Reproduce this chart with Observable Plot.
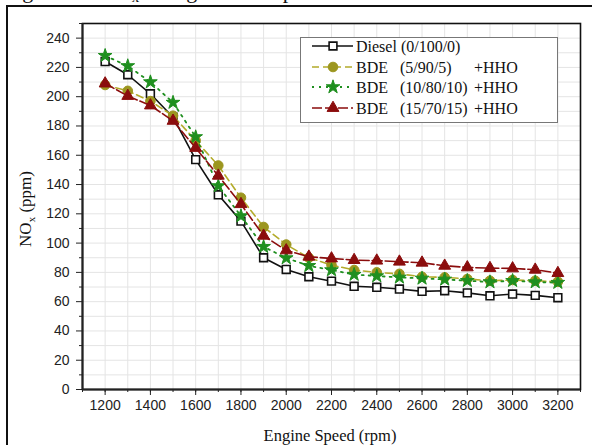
<!DOCTYPE html>
<html>
<head>
<meta charset="utf-8">
<script src="https://cdn.jsdelivr.net/npm/d3@7"></script>
<script src="https://cdn.jsdelivr.net/npm/@observablehq/plot@0.6"></script>
<style>
  body { margin: 0; background: #fff; }
  #wrap { position: relative; width: 592px; height: 445px; overflow: hidden; background: #fff; }
  #wrap > svg { position: absolute; left: 0; top: 0; }
</style>
</head>
<body>
<div id="wrap"></div>
<script>
// Engine speed (rpm)
const speeds = [1200, 1300, 1400, 1500, 1600, 1700, 1800, 1900, 2000, 2100, 2200,
                2300, 2400, 2500, 2600, 2700, 2800, 2900, 3000, 3100, 3200];

// NOx (ppm) per fuel blend
const diesel   = [224, 215, 202, 186, 157, 133, 115, 90, 82, 77, 74,
                  70.5, 69.8, 68.6, 67, 67.5, 66, 64, 65.2, 64.3, 62.7];
const bde5     = [208, 204, 197, 187, 170, 153, 131, 111, 99, 90, 85,
                  81.6, 80, 79, 77, 76.6, 75.5, 74.3, 74.8, 74.3, 73.6];
const bde10    = [228, 221, 210, 196, 172.5, 139, 118.5, 97.5, 89.8, 84.5, 81.6,
                  78.5, 77.5, 76.6, 75.9, 75.2, 74.3, 73.4, 74.3, 73.4, 73];
const bde15    = [209, 200.5, 194, 183.5, 165, 146, 126.6, 105, 95, 90.7, 89.5,
                  88.4, 88, 87.3, 86.6, 84.5, 83.4, 82.9, 82.7, 81.8, 79.5];

const seriesLabels = [
  ["Diesel (0/100/0)", "", ""],
  ["BDE", "(5/90/5)", "+HHO"],
  ["BDE", "(10/80/10)", "+HHO"],
  ["BDE", "(15/70/15)", "+HHO"]
];

// Axis ticks
const xTicks = d3.range(1200, 3201, 200);
const xMinor = d3.range(1100, 3301, 100);
const yTicks = d3.range(0, 241, 20);
const yMinor = d3.range(10, 251, 20);

// Series styling
const styles = [
  {values: diesel, line: "#111", dash: null,  symbol: "square",   r: 4.4, fill: "#fff",    stroke: "#111",    sw: 1.6, lw: 1.6},
  {values: bde5,   line: "#b3ab2a", dash: "7,4", symbol: "circle", r: 4.8, fill: "#9c961f", stroke: "#9c961f", sw: 1, lw: 1.6},
  {values: bde10,  line: "#1f8f1f", dash: "2,5", symbol: "star",   r: 4.3, fill: "#1f8f1f", stroke: "#1f8f1f", sw: 1, lw: 1.8},
  {values: bde15,  line: "#8b0d0d", dash: "10,3", symbol: "triangle", r: 4.4, fill: "#8b0d0d", stroke: "#8b0d0d", sw: 1, lw: 1.6}
];

const tables = styles.map(s => speeds.map((sp, i) => ({speed: sp, nox: s.values[i]})));

const seriesMarks = styles.flatMap((s, k) => [
  Plot.line(tables[k], {x: "speed", y: "nox", stroke: s.line, strokeWidth: s.lw, strokeDasharray: s.dash}),
  Plot.dot(tables[k], {x: "speed", y: "nox", symbol: () => s.symbol, r: s.r, fill: s.fill, stroke: s.stroke, strokeWidth: s.sw})
]);

const chart = Plot.plot({
  width: 592,
  height: 445,
  marginLeft: 82,
  marginRight: 12,
  marginTop: 23,
  marginBottom: 56,
  x: {domain: [1100, 3300]},
  y: {domain: [0, 250]},
  symbol: {type: "identity"},
  style: {fontFamily: "'Liberation Sans', Arial, sans-serif", fontSize: "14px", color: "#222", background: "transparent"},
  marks: [
    Plot.gridX(xMinor, {stroke: "#e4e4e4", strokeOpacity: 1}),
    Plot.gridY(d3.range(0, 251, 10), {stroke: "#e4e4e4", strokeOpacity: 1}),
    Plot.axisX(xMinor, {tickSize: 3, text: null, label: null, stroke: "#222"}),
    Plot.axisX(xTicks, {tickSize: 6, tickPadding: 5, label: null, stroke: "#222", tickFormat: d => String(d), fill: "#222"}),
    Plot.axisY(yMinor, {tickSize: 3, text: null, label: null, stroke: "#222"}),
    Plot.axisY(yTicks, {tickSize: 6, tickPadding: 7, label: null, stroke: "#222", tickFormat: d => String(d), fill: "#222"}),
    Plot.frame({stroke: "#111", strokeWidth: 1.6}),
    Plot.ruleX([1100], {stroke: "#222", strokeWidth: 2}),
    Plot.ruleY([0], {stroke: "#222", strokeWidth: 2}),
    ...seriesMarks
  ]
});

const wrap = document.getElementById("wrap");
wrap.appendChild(chart);

// Overlay: page frame, caption, axis titles and legend
const ov = d3.create("svg")
  .attr("width", 592).attr("height", 445)
  .style("font-family", "'Liberation Serif', 'Times New Roman', serif");

ov.append("rect")
  .attr("x", 7).attr("y", 6).attr("width", 700).attr("height", 600)
  .attr("fill", "none").attr("stroke", "#111").attr("stroke-width", 2);

// figure caption, running off the top of the page
const cap = ov.append("text").attr("x", 4).attr("y", -2)
  .attr("font-size", 22).attr("fill", "#111");
cap.append("tspan").text("Figure 10. NO");
cap.append("tspan").attr("font-size", 15).attr("dy", 4).text("x");
cap.append("tspan").attr("dy", -4).text(" change versus speed");

// y title
const yt = ov.append("text")
  .attr("transform", "translate(31,209) rotate(-90)")
  .attr("text-anchor", "middle").attr("font-size", 17).attr("fill", "#111");
yt.append("tspan").text("NO");
yt.append("tspan").attr("font-size", 11).attr("dy", 4).text("x");
yt.append("tspan").attr("dy", -4).text(" (ppm)");

// x title
ov.append("text")
  .attr("x", 330).attr("y", 441)
  .attr("text-anchor", "middle").attr("font-size", 16.5).attr("fill", "#111")
  .text("Engine Speed (rpm)");

// legend
const lg = ov.append("g");
lg.append("rect")
  .attr("x", 300.5).attr("y", 37.5).attr("width", 257).attr("height", 85)
  .attr("fill", "#fff").attr("stroke", "#777").attr("stroke-width", 1);

const symbolTypes = {square: d3.symbolSquare, circle: d3.symbolCircle, star: d3.symbolStar, triangle: d3.symbolTriangle};
const rowY = [46, 67, 87, 108];
styles.forEach((s, k) => {
  const y = rowY[k];
  lg.append("line")
    .attr("x1", 312).attr("x2", 353).attr("y1", y).attr("y2", y)
    .attr("stroke", s.line).attr("stroke-width", s.lw)
    .attr("stroke-dasharray", s.dash);
  lg.append("path")
    .attr("d", d3.symbol(symbolTypes[s.symbol], Math.PI * s.r * s.r)())
    .attr("transform", `translate(333,${y})`)
    .attr("fill", s.fill).attr("stroke", s.stroke).attr("stroke-width", s.sw);
  const [a, b, c] = seriesLabels[k];
  lg.append("text").attr("x", 356).attr("y", y + 5.5).attr("font-size", 16).attr("fill", "#111").text(a);
  if (b) lg.append("text").attr("x", 400).attr("y", y + 5.5).attr("font-size", 16).attr("fill", "#111").text(b);
  if (c) lg.append("text").attr("x", 474).attr("y", y + 5.5).attr("font-size", 16).attr("fill", "#111").text(c);
});

wrap.appendChild(ov.node());
</script>
</body>
</html>
